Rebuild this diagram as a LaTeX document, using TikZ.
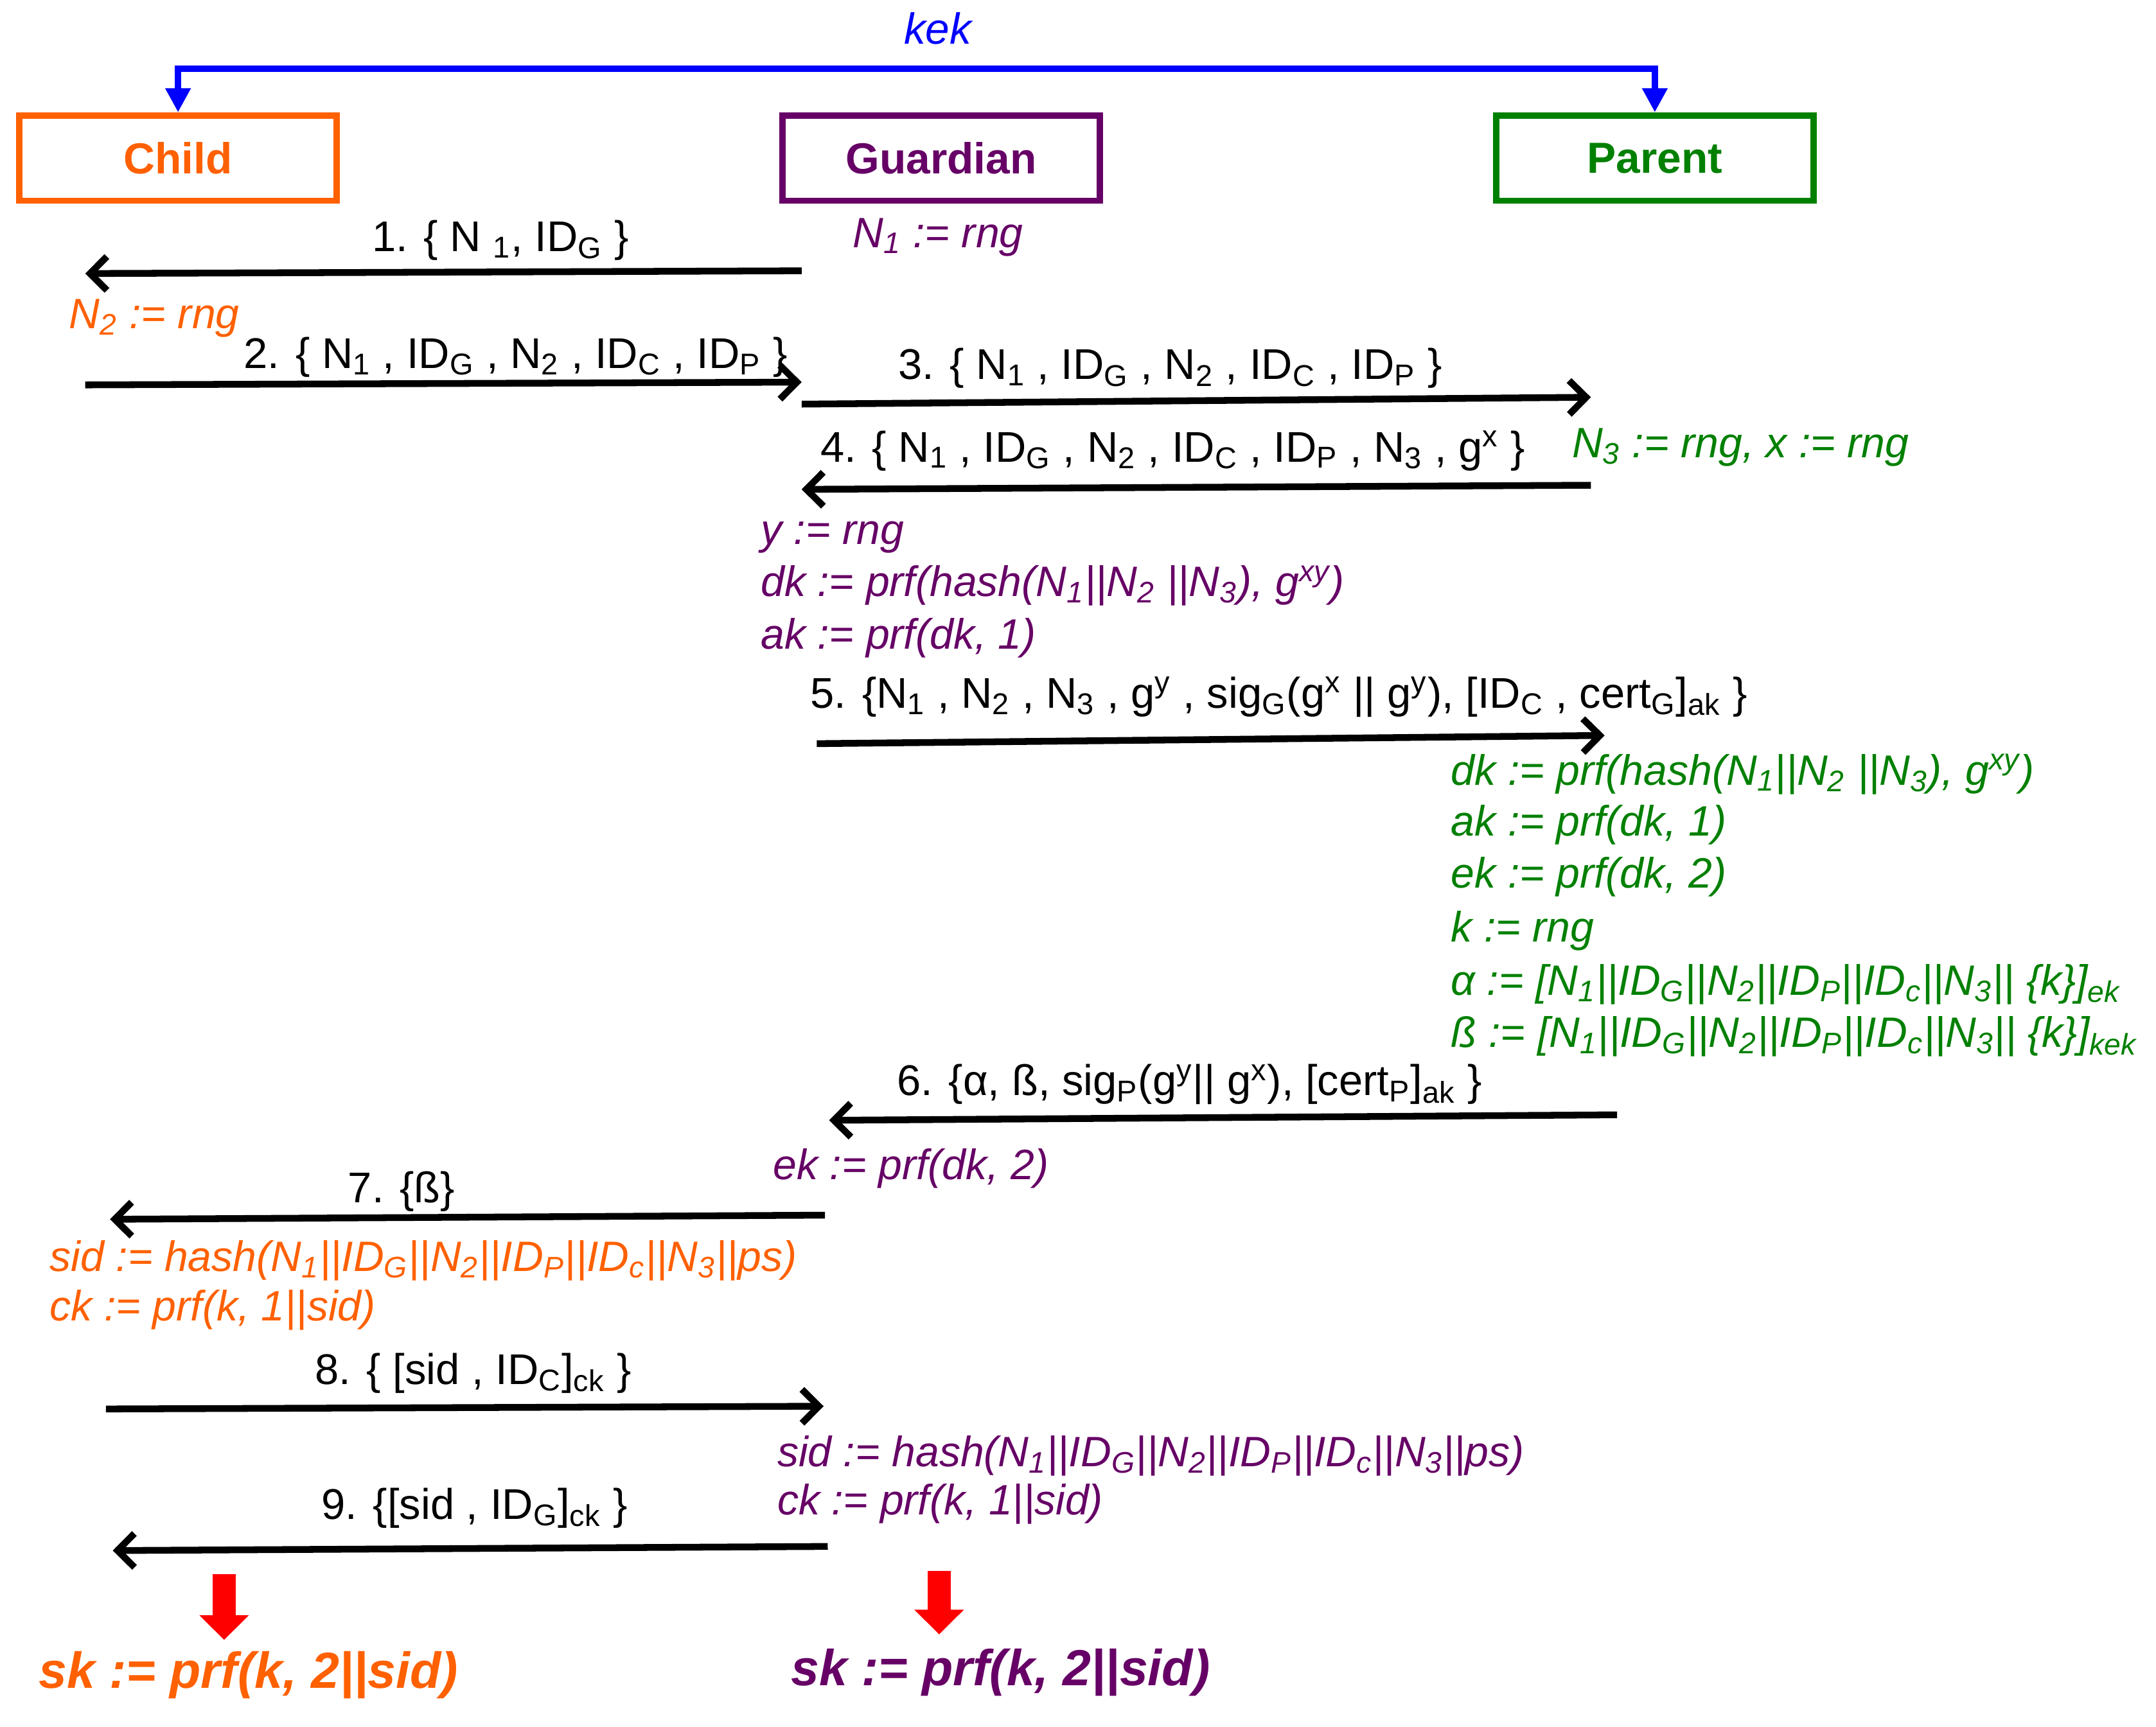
\documentclass[tikz,border=0pt]{standalone}
\usepackage{fontspec}
\setmainfont{Liberation Sans}
\usetikzlibrary{arrows.meta}
\definecolor{childc}{HTML}{FF6000}
\definecolor{guardc}{HTML}{660066}
\definecolor{parentc}{HTML}{008000}
\definecolor{kekc}{HTML}{0000FF}
\newcommand{\subx}[1]{\textsubscript{#1}}
\newcommand{\supx}[1]{\textsuperscript{#1}}
\tikzset{
  actor/.style={draw, line width=2.6pt, minimum width=4.62cm, minimum height=1.24cm, font=\fontsize{18}{22}\selectfont\bfseries},
  msg/.style={line width=2.8pt, -{Straight Barb[length=7pt,width=14pt]}},
  lbl/.style={anchor=base, font=\fontsize{17.8}{22}\selectfont},
  comp/.style={anchor=base west, inner xsep=0pt, font=\fontsize{17.6}{22}\selectfont\itshape},
  skline/.style={anchor=base west, inner xsep=0pt, font=\fontsize{21}{25}\selectfont\bfseries\itshape},
  blockarr/.style={red, line width=0.34cm, -{Triangle[length=0.36cm,width=0.7cm]}}
}
\begin{document}
\begin{tikzpicture}[x=0.02cm,y=-0.02cm]
\useasboundingbox (0,0) rectangle (1568,1256);
\node[actor, draw=childc, text=childc] (child) at (129.5,115) {Child};
\node[actor, draw=guardc, text=guardc] (guard) at (684.5,115) {Guardian};
\node[actor, draw=parentc, text=parentc] (parent) at (1203.5,115) {Parent};
\coordinate (kektop) at (666,50);
\draw[kekc, line width=2.8pt, {Triangle[length=10pt,width=10pt]}-{Triangle[length=10pt,width=10pt]}] (child.north) |- (kektop) -| (parent.north);
\node[lbl, text=kekc, font=\fontsize{18}{22}\selectfont\itshape] (kek) at (682,32) {kek};

\node[comp, text=guardc] (n1) at (620,180) {N\subx{1} := rng};
\coordinate (m1s) at (583,197); \coordinate (m1e) at (62,199);
\draw[msg] (m1s) -- (m1e);
\node[lbl] (l1) at (364,183) {1. \{ N \subx{1}, ID\subx{G} \}};
\node[comp, text=childc] (n2) at (50,239) {N\subx{2} := rng};

\coordinate (m2s) at (62,280); \coordinate (m2e) at (583,278);
\draw[msg] (m2s) -- (m2e);
\node[lbl] (l2) at (375,268) {2. \{ N\subx{1} , ID\subx{G} , N\subx{2} , ID\subx{C} , ID\subx{P} \}};
\coordinate (m3s) at (583,294); \coordinate (m3e) at (1157,289);
\draw[msg] (m3s) -- (m3e);
\node[lbl] (l3) at (851,276) {3. \{ N\subx{1} , ID\subx{G} , N\subx{2} , ID\subx{C} , ID\subx{P} \}};

\coordinate (m4s) at (1157,353); \coordinate (m4e) at (583,356);
\draw[msg] (m4s) -- (m4e);
\node[lbl] (l4) at (853,336) {4. \{ N\subx{1} , ID\subx{G} , N\subx{2} , ID\subx{C} , ID\subx{P} , N\subx{3} , g\supx{x} \}};
\node[comp, text=parentc] (n3) at (1143,333) {N\subx{3} := rng, x := rng};

\node[comp, text=guardc] (gy) at (553,396) {y := rng};
\node[comp, text=guardc] (gdk) at (553,434) {dk := prf(hash(N\subx{1}||N\subx{2} ||N\subx{3}), g\supx{xy})};
\node[comp, text=guardc] (gak) at (553,472) {ak := prf(dk, 1)};

\coordinate (m5s) at (594,541); \coordinate (m5e) at (1167,535);
\draw[msg] (m5s) -- (m5e);
\node[lbl] (l5) at (930,515) {5. \{N\subx{1} , N\subx{2} , N\subx{3} , g\supx{y} , sig\subx{G}(g\supx{x} || g\supx{y}), [ID\subx{C} , cert\subx{G}]\subx{ak} \}};

\node[comp, text=parentc] (pdk) at (1055,571) {dk := prf(hash(N\subx{1}||N\subx{2} ||N\subx{3}), g\supx{xy})};
\node[comp, text=parentc] (pak) at (1055,608) {ak := prf(dk, 1)};
\node[comp, text=parentc] (pek) at (1055,646) {ek := prf(dk, 2)};
\node[comp, text=parentc] (pk) at (1055,685) {k := rng};
\node[comp, text=parentc] (palpha) at (1055,724) {α := [N\subx{1}||ID\subx{G}||N\subx{2}||ID\subx{P}||ID\subx{c}||N\subx{3}|| \{k\}]\subx{ek}};
\node[comp, text=parentc] (pbeta) at (1055,762) {ß := [N\subx{1}||ID\subx{G}||N\subx{2}||ID\subx{P}||ID\subx{c}||N\subx{3}|| \{k\}]\subx{kek}};

\coordinate (m6s) at (1176,811); \coordinate (m6e) at (603,815);
\draw[msg] (m6s) -- (m6e);
\node[lbl] (l6) at (865,797) {6. \{α, ß, sig\subx{P}(g\supx{y}|| g\supx{x}), [cert\subx{P}]\subx{ak} \}};
\node[comp, text=guardc] (gek) at (562,858) {ek := prf(dk, 2)};

\coordinate (m7s) at (600,884); \coordinate (m7e) at (80,887);
\draw[msg] (m7s) -- (m7e);
\node[lbl] (l7) at (292,875) {7. \{ß\}};
\node[comp, text=childc] (csid) at (36,925) {sid := hash(N\subx{1}||ID\subx{G}||N\subx{2}||ID\subx{P}||ID\subx{c}||N\subx{3}||ps)};
\node[comp, text=childc] (cck) at (36,961) {ck := prf(k, 1||sid)};

\coordinate (m8s) at (77,1025); \coordinate (m8e) at (599,1023);
\draw[msg] (m8s) -- (m8e);
\node[lbl] (l8) at (344,1007) {8. \{ [sid , ID\subx{C}]\subx{ck} \}};
\node[comp, text=guardc] (gsid) at (565,1067) {sid := hash(N\subx{1}||ID\subx{G}||N\subx{2}||ID\subx{P}||ID\subx{c}||N\subx{3}||ps)};
\node[comp, text=guardc] (gck) at (565,1102) {ck := prf(k, 1||sid)};

\coordinate (m9s) at (602,1125); \coordinate (m9e) at (82,1128);
\draw[msg] (m9s) -- (m9e);
\node[lbl] (l9) at (345,1105) {9. \{[sid , ID\subx{G}]\subx{ck} \}};

\node[skline, text=childc] (csk) at (28,1228) {sk := prf(k, 2||sid)};
\node[skline, text=guardc] (gsk) at (575,1226) {sk := prf(k, 2||sid)};
\coordinate (ca) at (163,1145); \coordinate (cb) at (163,1193);
\coordinate (ga) at (683,1143); \coordinate (gb) at (683,1189);
\draw[blockarr] (ca) -- (cb);
\draw[blockarr] (ga) -- (gb);
\end{tikzpicture}
\end{document}
